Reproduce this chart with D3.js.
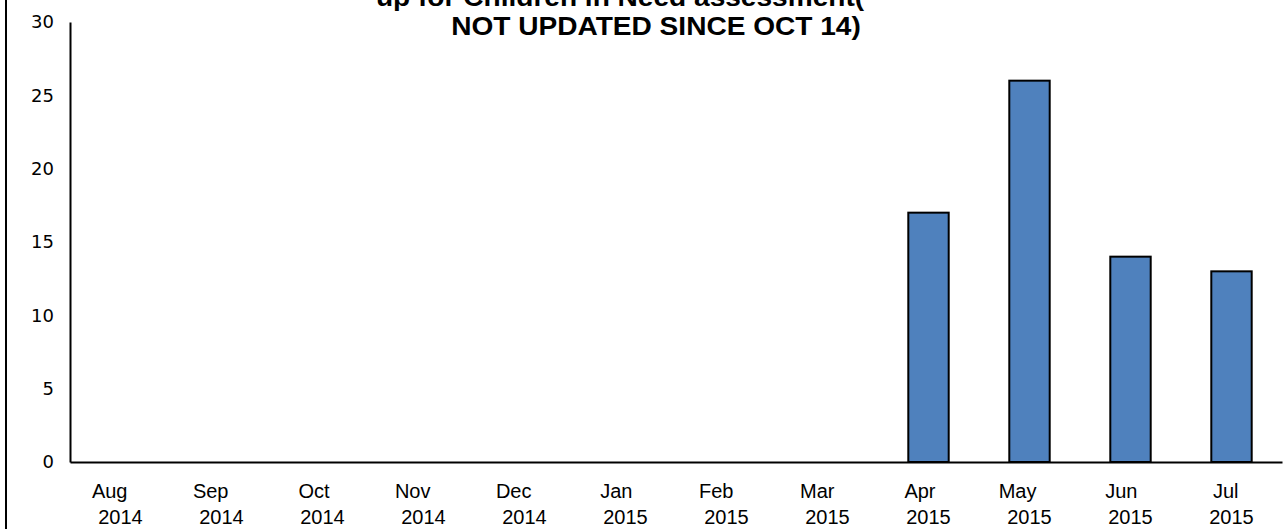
<!DOCTYPE html>
<html lang="en">
<head>
    <meta charset="UTF-8">
    <script src="https://d3js.org/d3.v7.min.js"></script>
    <style>
        body { margin: 0; background: #fff; }
        .bar { fill: #4f81bd; stroke: #000; stroke-width: 2; }
        .tick-x { font-family: "Liberation Sans", Arial, sans-serif; font-size: 20px; fill: #000; }
        .title { font-family: "Liberation Sans", Arial, sans-serif; font-size: 26px; font-weight: bold; fill: #000; }
    </style>
    <title>Chart</title>
</head>
<body>
    <div id="chart"></div>
    <script>
        const months = ["Aug", "Sep", "Oct", "Nov", "Dec", "Jan", "Feb", "Mar", "Apr", "May", "Jun", "Jul"];
        const years = ["2014", "2014", "2014", "2014", "2014", "2015", "2015", "2015", "2015", "2015", "2015", "2015"];
        const values = [null, null, null, null, null, null, null, null, 17, 26, 14, 13];
        const yTicks = [0, 5, 10, 15, 20, 25, 30];
        const titleLines = ["up for Children in Need assessment(", "NOT UPDATED SINCE OCT 14)"];

        var width = 1284, height = 529;
        var plotLeft = 70, plotRight = 1282, plotTop = 22, plotBottom = 462;

        var svg = d3.select("#chart").append("svg")
            .attr("width", width)
            .attr("height", height);

        var cats = months.map(function(m, i) { return i; });

        var xScale = d3.scaleBand().domain(cats).range([plotLeft, plotRight])
            .paddingInner(0.6).paddingOuter(0.3);
        var yScale = d3.scaleLinear().domain([0, 30]).range([plotBottom, plotTop]);

        // frame line on the left
        svg.append("line")
            .attr("x1", 6).attr("x2", 6).attr("y1", 0).attr("y2", height)
            .attr("stroke", "#000").attr("stroke-width", 2);

        // bars
        svg.selectAll(".bar")
            .data(values.map(function(v, i) { return {i: i, v: v}; }).filter(function(d) { return d.v != null; }))
            .enter().append("rect")
            .attr("class", "bar")
            .attr("x", function(d) { return xScale(d.i); })
            .attr("y", function(d) { return yScale(d.v); })
            .attr("width", xScale.bandwidth())
            .attr("height", function(d) { return plotBottom - yScale(d.v); });

        // y axis
        var yAxis = svg.append("g")
            .attr("transform", "translate(" + plotLeft + ",0)")
            .call(d3.axisLeft(yScale).tickValues(yTicks).tickSize(0).tickPadding(16));
        yAxis.select(".domain").attr("stroke", "#000").attr("stroke-width", 2);
        yAxis.selectAll("text")
            .style("font-family", "'DejaVu Sans', sans-serif")
            .style("font-size", "18px")
            .style("fill", "#000");

        // x axis
        var xAxis = svg.append("g")
            .attr("transform", "translate(0," + plotBottom + ")")
            .call(d3.axisBottom(xScale).tickSize(0).tickFormat(""));
        xAxis.select(".domain").attr("stroke", "#000").attr("stroke-width", 2);

        var labels = svg.append("g").selectAll("g")
            .data(cats).enter().append("g")
            .attr("transform", function(i) { return "translate(" + (xScale(i) + xScale.bandwidth() / 2) + ",0)"; });
        labels.append("text")
            .attr("class", "tick-x")
            .attr("x", 7).attr("y", 498)
            .attr("text-anchor", "end")
            .text(function(i) { return months[i]; });
        labels.append("text")
            .attr("class", "tick-x")
            .attr("x", 0).attr("y", 524)
            .attr("text-anchor", "middle")
            .text(function(i) { return years[i]; });

        // title (first line is cut off at the top)
        svg.append("text").attr("class", "title")
            .attr("text-anchor", "middle")
            .attr("transform", "translate(620,6) scale(1.08,1)")
            .text(titleLines[0]);
        svg.append("text").attr("class", "title")
            .attr("text-anchor", "middle")
            .attr("transform", "translate(656,35) scale(1.08,1)")
            .text(titleLines[1]);
    </script>
</body>
</html>
